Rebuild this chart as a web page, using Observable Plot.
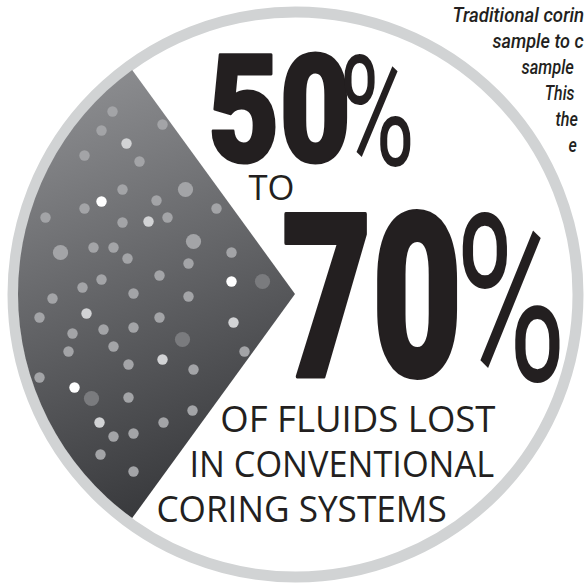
<!DOCTYPE html>
<html>
<head>
<meta charset="utf-8">
<script src="https://cdn.jsdelivr.net/npm/d3@7"></script>
<script src="https://cdn.jsdelivr.net/npm/@observablehq/plot@0.6"></script>
<style>
  html, body { margin: 0; padding: 0; background: #fff; overflow: hidden; }
  svg { overflow: hidden; display: block; }
</style>
</head>
<body>
<div id="chart"></div>
<script>
// ---------------- data ----------------
const headline = ["50", "%", "TO", "70", "%"];
const caption = ["OF FLUIDS LOST", "IN CONVENTIONAL", "CORING SYSTEMS"];
const note = ["Traditional corin", "sample to c", "sample", "This", "the", "e"];
const wedgeAngles = [216, 324]; // sector, degrees clockwise from north
const toneNames = ["white", "light", "mid", "dark"];
const dotX = [112, 101, 162, 126, 84, 139, 122, 185, 101, 156, 84, 45, 122, 148, 167, 216, 193, 60, 93, 113,
  127, 231, 188, 159, 101, 82, 231, 262, 52, 133, 188, 86, 39, 159, 233, 72, 103, 133, 68, 113,
  182, 244, 128, 162, 193, 39, 74, 91, 128, 192, 99, 163, 113, 133, 100, 133];
const dotY = [111, 130, 124, 143, 155, 161, 189, 189, 201, 200, 208, 217, 222, 221, 217, 208, 241, 252, 247, 247,
  258, 252, 263, 275, 279, 287, 281, 281, 298, 293, 296, 313, 317, 317, 322, 333, 329, 327, 351, 346,
  339, 351, 364, 359, 369, 377, 387, 398, 397, 410, 422, 422, 436, 433, 454, 471];
const dotSize = ["s","s","s","s","s","s","s","l","s","s","s","s","s","s","s","s","l","l","s","s",
  "s","s","s","s","s","s","s","l","s","s","s","s","s","s","s","s","s","s","s","s",
  "l","s","s","s","s","s","s","l","s","s","s","s","s","s","s","s"];
const dotTone = ["mid","mid","mid","light","mid","mid","mid","mid","white","mid","mid","mid","mid","light","mid","mid","mid","mid","mid","mid",
  "mid","mid","mid","mid","mid","mid","white","dark","mid","mid","mid","light","mid","mid","light","mid","mid","mid","mid","mid",
  "dark","mid","mid","light","mid","mid","white","dark","mid","mid","light","mid","mid","mid","mid","mid"];

const dots = dotX.map((x, i) => ({x, y: dotY[i], size: dotSize[i], tone: dotTone[i]}));

// ---------------- layout ----------------
const W = 584, H = 583;
const center = {x: 295, y: 294};
const ringR = 282.5, ringW = 11, innerR = 277;
const ink = "#231f20";

const heavy = {family: "Roboto, 'Liberation Sans', sans-serif", weight: 900};
const thin = {family: "Roboto, 'Liberation Sans', sans-serif", weight: 400};
const plain = {family: "'Open Sans', sans-serif", weight: 400};
const headBoxes = [
  {font: heavy, stroke: 3, box: {x0: 210, x1: 347, y0: 52, y1: 165}},
  {font: thin, stroke: 0, box: {x0: 344, x1: 410, y0: 53, y1: 166}},
  {font: plain, stroke: 0, box: {x0: 248, x1: 292, y0: 175, y1: 200}},
  {font: heavy, stroke: 4, box: {x0: 283, x1: 457, y0: 210, y1: 380}},
  {font: thin, stroke: 0, box: {x0: 462, x1: 559, y0: 212, y1: 383}}
];
const capBoxes = [
  {x0: 222, x1: 495, y0: 405, y1: 432},
  {x0: 192, x1: 493, y0: 450, y1: 477},
  {x0: 158, x1: 445, y0: 495, y1: 522}
];
const noteFont = {family: "Roboto, sans-serif", weight: 500, style: "italic", size: 20};
const noteSpans = {x0: [453, 492, 521, 545, 555, 568], x1: [583, 583, 573, 574, 577, 576], y: [21, 47, 73, 99, 125, 151]};

// fit a text's ink to a target box: font size from height, horizontal squeeze from width
const ctx = document.createElement("canvas").getContext("2d");
function fitBox(text, font, box, stroke = 0) {
  ctx.font = `${font.style || "normal"} ${font.weight} 100px ${font.family}`;
  const m = ctx.measureText(text);
  const A = m.actualBoundingBoxAscent, D = m.actualBoundingBoxDescent;
  const L = m.actualBoundingBoxLeft, R = m.actualBoundingBoxRight;
  const f = (box.y1 - box.y0 - stroke) / (A + D) * 100;
  const k = (box.x1 - box.x0) / ((L + R) * f / 100 + stroke);
  return {size: f, y: box.y1 - stroke / 2 - D * f / 100, x: box.x0 + k * (L * f / 100 + stroke / 2), k};
}
function fitWidth(text, font, x0, x1) {
  ctx.font = `${font.style || "normal"} ${font.weight} ${font.size}px ${font.family}`;
  const m = ctx.measureText(text);
  const L = m.actualBoundingBoxLeft, R = m.actualBoundingBoxRight;
  const k = (x1 - x0) / (L + R);
  return {x: x0 + k * L, k};
}

function wedgeMark(index, scales) {
  const sx = scales.x, sy = scales.y;
  const cx = sx(center.x), cy = sy(center.y);
  const r = sx(center.x + innerR) - cx;
  const g = d3.create("svg:g");
  const grad = g.append("defs").append("linearGradient")
    .attr("id", "wedgeGrad").attr("gradientUnits", "userSpaceOnUse")
    .attr("x1", sx(100) - cx).attr("y1", sy(90) - cy)
    .attr("x2", sx(260) - cx).attr("y2", sy(480) - cy);
  grad.append("stop").attr("offset", 0).attr("stop-color", "#898a8d");
  grad.append("stop").attr("offset", 1).attr("stop-color", "#36373a");
  const arc = d3.arc().innerRadius(0).outerRadius(r)
    .startAngle(wedgeAngles[0] * Math.PI / 180).endAngle(wedgeAngles[1] * Math.PI / 180);
  g.append("path").attr("transform", `translate(${cx},${cy})`).attr("d", arc()).attr("fill", "url(#wedgeGrad)");
  return g.node();
}

const squeeze = [];
const headMarks = headline.map((t, i) => {
  const H0 = headBoxes[i];
  const fit = fitBox(t, H0.font, H0.box, H0.stroke);
  squeeze.push([fit.k]);
  return Plot.text([{t, x: fit.x, y: fit.y}], {
    x: "x", y: "y", text: "t", textAnchor: "start", lineAnchor: "bottom",
    fontSize: fit.size, fontWeight: H0.font.weight, fontFamily: H0.font.family,
    fill: ink, stroke: H0.stroke ? ink : undefined, strokeWidth: H0.stroke || undefined
  });
});

const capFits = caption.map((t, i) => fitBox(t, plain, capBoxes[i]));
const capSize = d3.mean(capFits, d => d.size);
const capData = caption.map((t, i) => ({t, x: capFits[i].x, y: capFits[i].y}));
squeeze.push(capFits.map(d => d.k));

const noteFits = note.map((t, i) => fitWidth(t, noteFont, noteSpans.x0[i], noteSpans.x1[i]));
const noteData = note.map((t, i) => ({t, x: noteFits[i].x, y: noteSpans.y[i]}));
squeeze.push(noteFits.map(d => d.k));

const chart = Plot.plot({
  width: W, height: H, margin: 0,
  x: {domain: [0, W], range: [0, W], axis: null},
  y: {domain: [0, H], range: [0, H], axis: null},
  color: {type: "ordinal", domain: toneNames, range: ["#ffffff", "#d2d3d5", "#a3a4a7", "#7a7b7e"]},
  marks: [
    Plot.dot([center], {x: "x", y: "y", r: ringR, fill: "white", stroke: "#d1d3d4", strokeWidth: ringW}),
    wedgeMark,
    Plot.dot(dots, {filter: d => d.size === "s", x: "x", y: "y", r: 5.2, fill: "tone"}),
    Plot.dot(dots, {filter: d => d.size === "l", x: "x", y: "y", r: 7.6, fill: "tone"}),
    ...headMarks,
    Plot.text(capData, {x: "x", y: "y", text: "t", textAnchor: "start", lineAnchor: "bottom",
      fontSize: capSize, fontWeight: plain.weight, fontFamily: plain.family, fill: ink}),
    Plot.text(noteData, {x: "x", y: "y", text: "t", textAnchor: "start", lineAnchor: "bottom",
      fontSize: noteFont.size, fontWeight: noteFont.weight, fontStyle: "italic", fontFamily: noteFont.family, fill: ink})
  ]
});

// squeeze the type horizontally (about each text's anchor) to the reference widths
chart.querySelectorAll('g[aria-label="text"]').forEach((g, gi) => {
  g.querySelectorAll("text").forEach((t, j) => {
    const k = squeeze[gi] && squeeze[gi][j];
    if (k != null && isFinite(k)) {
      const tr = t.getAttribute("transform") || "";
      t.setAttribute("transform", `${tr} scale(${k.toFixed(4)},1)`.trim());
    }
  });
});

document.getElementById("chart").appendChild(chart);
</script>
</body>
</html>
